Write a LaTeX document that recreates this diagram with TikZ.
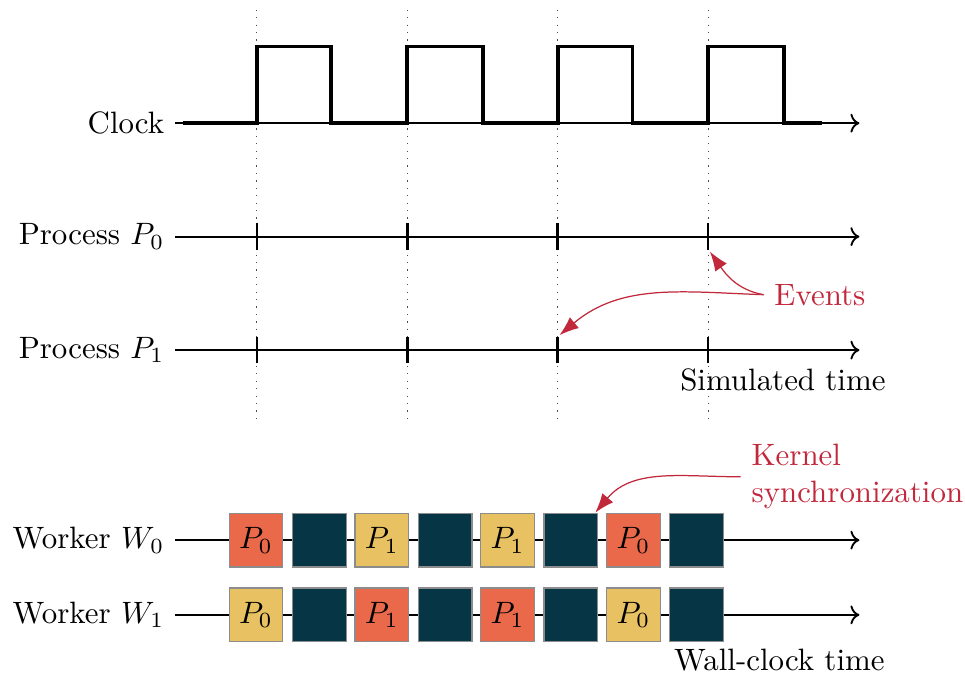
\documentclass[tikz,border=0pt]{standalone}
\usetikzlibrary{arrows.meta}

\definecolor{rougeev}{HTML}{C2283C}
\definecolor{orangep}{HTML}{E9694A}
\definecolor{jaunep}{HTML}{E8C262}
\definecolor{bleusync}{HTML}{063646}

\tikzstyle{axe} = [semithick, ->]
\tikzstyle{horloge} = [very thick, line join=miter]
\tikzstyle{tic} = [thick]
\tikzstyle{guide} = [dotted, black!70]
\tikzstyle{legende} = [anchor=east]
\tikzstyle{note} = [text=rougeev]
\tikzstyle{fleche} = [rougeev, -{Latex[length=2.2mm, width=1.6mm]}]
\tikzstyle{boite} = [rectangle, draw=black!45, minimum size=0.61cm, inner sep=0pt]
\tikzstyle{chaud} = [boite, fill=orangep]
\tikzstyle{tiede} = [boite, fill=jaunep]
\tikzstyle{sync} = [boite, fill=bleusync]

\begin{document}
\begin{tikzpicture}

    \useasboundingbox (0,0) rectangle (10.97,7.67);

    % guides
    \draw[guide] (2.92,7.56) -- (2.92,2.84);
    \draw[guide] (4.63,7.56) -- (4.63,2.84);
    \draw[guide] (6.34,7.56) -- (6.34,2.84);
    \draw[guide] (8.05,7.56) -- (8.05,2.84);

    %-------------------------------------------------------------
    \node[legende] (lclk) at (1.99,6.27) {Clock};
    \node[legende] (lp0) at (1.99,4.98) {Process $P_0$};
    \node[legende] (lp1) at (1.99,3.69) {Process $P_1$};
    \coordinate (fclk) at (9.77,6.27);
    \coordinate (fp0) at (9.77,4.98);
    \coordinate (fp1) at (9.77,3.69);

    \draw[axe] (lclk.east) -- (fclk);
    \draw[axe] (lp0.east) -- (fp0);
    \draw[axe] (lp1.east) -- (fp1);

    \draw[horloge] (2.08,6.27) -- (2.92,6.27) -- (2.92,7.14) -- (3.76,7.14) -- (3.76,6.27)
        -- (4.63,6.27) -- (4.63,7.14) -- (5.49,7.14) -- (5.49,6.27)
        -- (6.34,6.27) -- (6.34,7.14) -- (7.19,7.14) -- (7.19,6.27)
        -- (8.05,6.27) -- (8.05,7.14) -- (8.91,7.14) -- (8.91,6.27) -- (9.34,6.27);

    % evenements
    \draw[tic] (2.92,4.83) -- (2.92,5.13);
    \draw[tic] (4.63,4.83) -- (4.63,5.13);
    \draw[tic] (6.34,4.83) -- (6.34,5.13);
    \draw[tic] (8.05,4.83) -- (8.05,5.13);
    \draw[tic] (2.92,3.54) -- (2.92,3.84);
    \draw[tic] (4.63,3.54) -- (4.63,3.84);
    \draw[tic] (6.34,3.54) -- (6.34,3.84);
    \draw[tic] (8.05,3.54) -- (8.05,3.84);
    \coordinate (e0) at (8.07,4.81);
    \coordinate (e1) at (6.36,3.86);

    \node[note] (ev) at (9.32,4.32) {Events};
    \draw[fleche] (ev.west) to[out=170, in=-55] (e0);
    \draw[fleche] (ev.west) to[out=178, in=40] (e1);

    \node (simu) at (8.9,3.35) {Simulated time};

    %-------------------------------------------------------------
    \node[legende] (lw0) at (1.99,1.53) {Worker $W_0$};
    \node[legende] (lw1) at (1.99,0.68) {Worker $W_1$};
    \coordinate (fw0) at (9.77,1.53);
    \coordinate (fw1) at (9.77,0.68);

    \draw[axe] (lw0.east) -- (fw0);
    \draw[axe] (lw1.east) -- (fw1);

    \node[chaud] (a1) at (2.91,1.53) {$P_0$};
    \node[sync]  (a2) at (3.63,1.53) {};
    \node[tiede] (a3) at (4.34,1.53) {$P_1$};
    \node[sync]  (a4) at (5.06,1.53) {};
    \node[tiede] (a5) at (5.77,1.53) {$P_1$};
    \node[sync]  (a6) at (6.49,1.53) {};
    \node[chaud] (a7) at (7.20,1.53) {$P_0$};
    \node[sync]  (a8) at (7.92,1.53) {};

    \node[tiede] (b1) at (2.91,0.68) {$P_0$};
    \node[sync]  (b2) at (3.63,0.68) {};
    \node[chaud] (b3) at (4.34,0.68) {$P_1$};
    \node[sync]  (b4) at (5.06,0.68) {};
    \node[chaud] (b5) at (5.77,0.68) {$P_1$};
    \node[sync]  (b6) at (6.49,0.68) {};
    \node[tiede] (b7) at (7.20,0.68) {$P_0$};
    \node[sync]  (b8) at (7.92,0.68) {};

    \node[note, anchor=west, align=left] (ks) at (8.42,2.25) {Kernel\\synchronization};
    \draw[fleche] (ks.west) to[out=180, in=50] ([xshift=-1pt]a6.north east);

    \node (mur) at (8.86,0.17) {Wall-clock time};

\end{tikzpicture}
\end{document}
